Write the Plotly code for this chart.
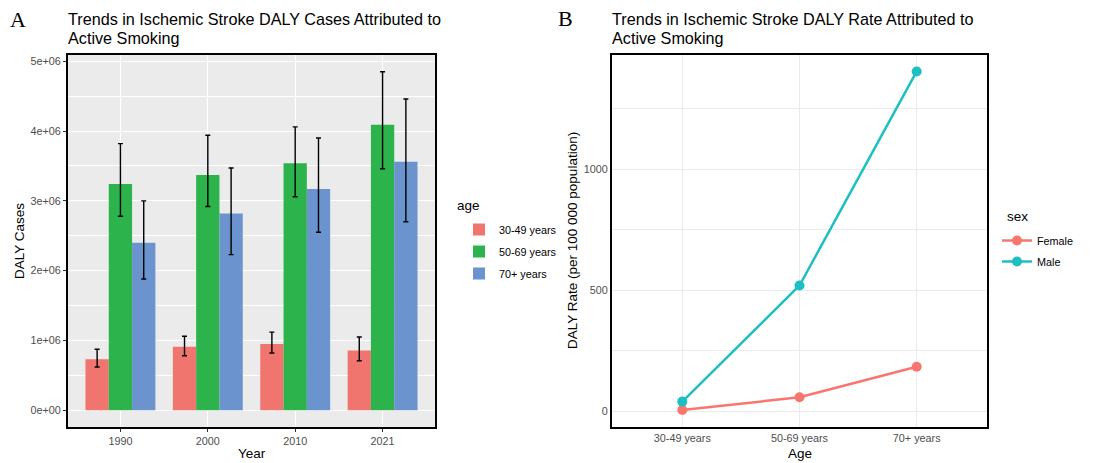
import plotly.graph_objects as go

W, H = 1102, 463

# ---------------- data ----------------
years = ["1990", "2000", "2010", "2021"]
age_groups = ["30-49 years", "50-69 years", "70+ years"]
cases_30_49 = [0.73e6, 0.91e6, 0.95e6, 0.855e6]
cases_30_49_lo = [0.62e6, 0.78e6, 0.82e6, 0.71e6]
cases_30_49_hi = [0.875e6, 1.06e6, 1.12e6, 1.05e6]
cases_50_69 = [3.24e6, 3.37e6, 3.54e6, 4.09e6]
cases_50_69_lo = [2.78e6, 2.92e6, 3.06e6, 3.46e6]
cases_50_69_hi = [3.82e6, 3.94e6, 4.06e6, 4.85e6]
cases_70 = [2.40e6, 2.82e6, 3.17e6, 3.56e6]
cases_70_lo = [1.88e6, 2.23e6, 2.55e6, 2.70e6]
cases_70_hi = [3.00e6, 3.47e6, 3.90e6, 4.46e6]

rate_female = [5, 58, 184]
rate_male = [40, 520, 1405]

y1_ticks = [0, 1e6, 2e6, 3e6, 4e6, 5e6]
y1_ticktext = ["0e+00", "1e+06", "2e+06", "3e+06", "4e+06", "5e+06"]
y2_ticks = [0, 500, 1000]
y2_ticktext = ["0", "500", "1000"]

bar_colors = ["#F1756F", "#2DB34B", "#6B93CD"]
sex_colors = {"Female": "#F8766D", "Male": "#1DBFC1"}

# ---------------- helpers ----------------
def px_x(v):
    return v / W

def px_y(v):
    return (H - v) / H

fig = go.Figure()

series = [
    (age_groups[0], cases_30_49, cases_30_49_lo, cases_30_49_hi),
    (age_groups[1], cases_50_69, cases_50_69_lo, cases_50_69_hi),
    (age_groups[2], cases_70, cases_70_lo, cases_70_hi),
]
for (name, vals, lo, hi), col in zip(series, bar_colors):
    fig.add_trace(go.Bar(
        x=years, y=vals, name=name, marker=dict(color=col, line=dict(width=0)),
        error_y=dict(type="data", symmetric=False,
                     array=[h - v for h, v in zip(hi, vals)],
                     arrayminus=[v - l for v, l in zip(vals, lo)],
                     color="black", thickness=1.4, width=2.5),
        xaxis="x", yaxis="y", legend="legend", legendgroup=name,
    ))

for name, vals in [("Female", rate_female), ("Male", rate_male)]:
    fig.add_trace(go.Scatter(
        x=age_groups, y=vals, name=name, mode="lines+markers",
        line=dict(color=sex_colors[name], width=2.5),
        marker=dict(color=sex_colors[name], size=10),
        xaxis="x2", yaxis="y2", legend="legend2", legendgroup=name,
    ))

tickfont = dict(family="Liberation Sans, Arial, sans-serif", size=10.8, color="#4D4D4D")
dom_y = [px_y(427), px_y(55)]

fig.update_layout(
    width=W, height=H,
    margin=dict(l=0, r=0, t=0, b=0),
    paper_bgcolor="white", plot_bgcolor="white",
    font=dict(family="Liberation Sans, Arial, sans-serif", color="black"),
    barmode="group", bargap=0.2, bargroupgap=0,
    xaxis=dict(domain=[px_x(68), px_x(435)], anchor="y", type="category",
               range=[-0.6, 3.6], showline=True, linecolor="black", linewidth=2,
               mirror=True, ticks="outside", ticklen=3, tickcolor="#333333",
               showgrid=True, gridcolor="white", gridwidth=1.2, tickfont=tickfont,
               zeroline=False),
    yaxis=dict(domain=dom_y, anchor="x", range=[-0.24e6, 5.09e6],
               tickmode="array", tickvals=y1_ticks, ticktext=y1_ticktext,
               showline=True, linecolor="black", linewidth=2, mirror=True,
               ticks="outside", ticklen=3, tickcolor="#333333",
               showgrid=True, gridcolor="white", gridwidth=1.2, zeroline=False,
               tickfont=tickfont,
               minor=dict(tickmode="linear", tick0=0, dtick=5e5, showgrid=True,
                          gridcolor="white", gridwidth=0.6, ticks="")),
    xaxis2=dict(domain=[px_x(612), px_x(987)], anchor="y2", type="category",
                range=[-0.6, 2.6], showline=True, linecolor="black", linewidth=2,
                mirror=True, ticks="", showgrid=True, gridcolor="#EBEBEB",
                gridwidth=1.1, tickfont=tickfont, zeroline=False),
    yaxis2=dict(domain=dom_y, anchor="x2", range=[-65, 1473],
                tickmode="array", tickvals=y2_ticks, ticktext=y2_ticktext,
                showline=True, linecolor="black", linewidth=2, mirror=True,
                ticks="", showgrid=True, gridcolor="#EBEBEB", gridwidth=1.1,
                zeroline=False, tickfont=tickfont,
                minor=dict(tickmode="linear", tick0=0, dtick=250, showgrid=True,
                           gridcolor="#EBEBEB", gridwidth=0.6, ticks="")),
    legend=dict(x=px_x(459), y=px_y(215), xanchor="left", yanchor="top",
                font=dict(size=10.8, color="black"), bgcolor="rgba(0,0,0,0)",
                tracegroupgap=3, traceorder="grouped"),
    legend2=dict(x=px_x(997), y=px_y(226), xanchor="left", yanchor="top",
                 font=dict(size=10.8, color="black"), bgcolor="rgba(0,0,0,0)",
                 tracegroupgap=2, traceorder="grouped"),
)

# grey panel background for A
fig.add_shape(type="rect", xref="x domain", yref="y domain", x0=0, x1=1, y0=0, y1=1,
              fillcolor="#EBEBEB", line=dict(width=0), layer="below")

def ann(text, x, y, size, family="Liberation Sans, Arial, sans-serif", xanchor="left",
        angle=0, color="black"):
    fig.add_annotation(text=text, xref="paper", yref="paper", x=px_x(x), y=px_y(y),
                       xanchor=xanchor, yanchor="middle", showarrow=False,
                       textangle=angle, font=dict(size=size, family=family, color=color))

# titles
ann("Trends in Ischemic Stroke DALY Cases Attributed to", 66, 19.5, 16.2)
ann("Active Smoking", 66, 38.5, 16.2)
ann("Trends in Ischemic Stroke DALY Rate Attributed to", 610, 19.5, 16.2)
ann("Active Smoking", 610, 38.5, 16.2)
ann("A", 8, 19.5, 22, family="Liberation Serif, Times New Roman, serif")
ann("B", 556, 18, 22, family="Liberation Serif, Times New Roman, serif")

# axis titles
ann("Year", 251.5, 453, 13.5, xanchor="center")
ann("DALY Cases", 19, 241, 13.5, xanchor="center", angle=-90)
ann("Age", 799.5, 453, 13.5, xanchor="center")
ann("DALY Rate (per 100 000 population)", 572, 241, 13.5, xanchor="center", angle=-90)

# legend titles
ann("age", 455, 205, 13.5)
ann("sex", 1005, 216, 13.5)

fig.write_html("out.html", config={"displayModeBar": False},
               post_script="document.body.style.margin='0';document.body.style.overflow='hidden';")
